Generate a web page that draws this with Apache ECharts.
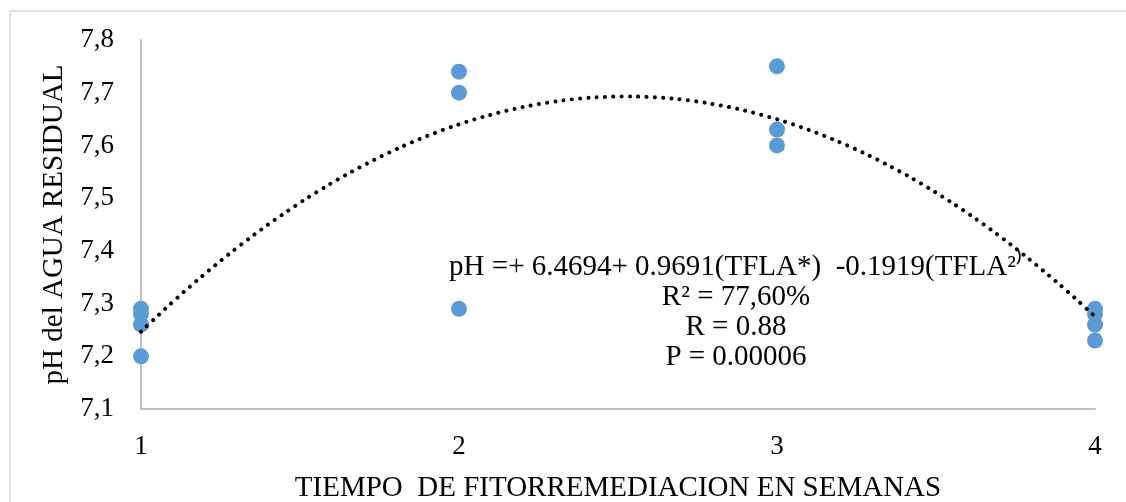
<!DOCTYPE html>
<html>
<head>
<meta charset="utf-8">
<script src="https://cdn.jsdelivr.net/npm/echarts@6/dist/echarts.min.js"></script>
<style>
html, body { margin: 0; padding: 0; background: #fff; }
#chart { width: 1126px; height: 502px; }
</style>
</head>
<body>
<div id="chart"></div>
<script>
// semanas y pH medido
var weeks = [1, 1, 1, 1, 2, 2, 2, 3, 3, 3, 4, 4, 4, 4];
var phValues = [7.29, 7.28, 7.26, 7.20, 7.74, 7.70, 7.29, 7.75, 7.63, 7.60, 7.29, 7.28, 7.26, 7.23];
// coeficientes de la tendencia polinomica (del texto del grafico)
var trendCoef = [6.4694, 0.9691, -0.1919];
var yTicks = [7.1, 7.2, 7.3, 7.4, 7.5, 7.6, 7.7, 7.8];
var xTicks = [1, 2, 3, 4];
var eqLines = [
	'pH =+ 6.4694+ 0.9691(TFLA*)  -0.1919(TFLA²⁾',
	'R² = 77,60%',
	'R = 0.88',
	'P = 0.00006'
];

var scatterData = weeks.map(function (w, i) { return [w, phValues[i]]; });
var trendData = [];
for (var k = 0; k <= 90; k++) {
	var t = xTicks[0] + k * (xTicks[xTicks.length - 1] - xTicks[0]) / 90;
	trendData.push([t, trendCoef[0] + trendCoef[1] * t + trendCoef[2] * t * t]);
}

var serif = '"Liberation Serif", "Times New Roman", serif';
var eqText = eqLines.map(function (line, i) {
	return {
		type: 'text', x: 736, y: 267 + i * 30,
		style: { text: line, fontFamily: serif, fontSize: 29, fill: '#000', align: 'center', verticalAlign: 'middle' }
	};
});

var chart = echarts.init(document.getElementById('chart'));
chart.setOption({
	animation: false,
	grid: { left: 141, right: 31, top: 40, bottom: 93, outerBoundsMode: 'none', containLabel: false },
	xAxis: {
		type: 'value',
		min: xTicks[0],
		max: xTicks[xTicks.length - 1],
		interval: 1,
		name: 'TIEMPO  DE FITORREMEDIACION EN SEMANAS',
		nameLocation: 'middle',
		nameGap: 65,
		nameTextStyle: { fontFamily: serif, fontSize: 29, color: '#000' },
		axisLine: { lineStyle: { color: '#bfbfbf', width: 2 } },
		axisTick: { show: false },
		splitLine: { show: false },
		axisLabel: { fontFamily: serif, fontSize: 27, color: '#000', margin: 24 }
	},
	yAxis: {
		type: 'value',
		min: yTicks[0],
		max: yTicks[yTicks.length - 1],
		interval: 0.1,
		name: 'pH del AGUA RESIDUAL',
		nameLocation: 'middle',
		nameGap: 71,
		nameTextStyle: { fontFamily: serif, fontSize: 29, color: '#000' },
		axisLine: { show: true, lineStyle: { color: '#bfbfbf', width: 2 } },
		axisTick: { show: false },
		splitLine: { show: false },
		axisLabel: {
			fontFamily: serif, fontSize: 27, color: '#000', margin: 27,
			formatter: function (v) { return v.toFixed(1).replace('.', ','); }
		}
	},
	graphic: [
		{
			type: 'rect', silent: true,
			shape: { x: 10, y: 11, width: 1130, height: 500 },
			style: { fill: 'none', stroke: '#d9d9d9', lineWidth: 1.5 }
		}
	].concat(eqText),
	series: [
		{
			type: 'line',
			data: trendData,
			showSymbol: false,
			smooth: true,
			z: 3,
			lineStyle: { color: '#000', width: 4, type: [0.01, 8.3], cap: 'round' }
		},
		{
			type: 'scatter',
			data: scatterData,
			symbolSize: 16,
			z: 2,
			itemStyle: { color: '#5b9bd5', opacity: 1 }
		}
	]
});
</script>
</body>
</html>
